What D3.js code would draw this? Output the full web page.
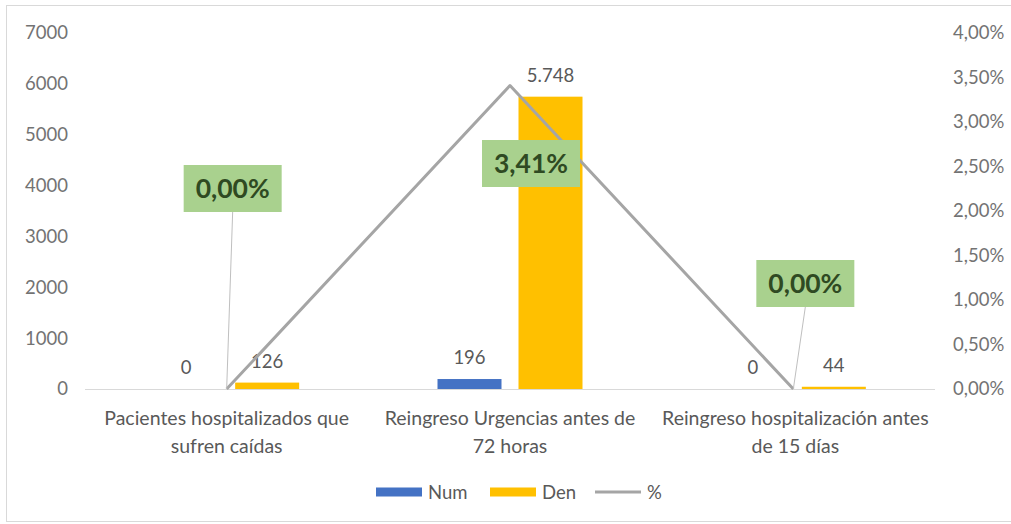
<!DOCTYPE html>
<html>
<head>
<meta charset="utf-8">
<script src="https://cdn.jsdelivr.net/npm/d3@7"></script>
<style>
  html, body { margin: 0; padding: 0; background: #ffffff; }
  svg { display: block; }
  text { font-family: Lato, "Open Sans", sans-serif; }
</style>
</head>
<body>
<svg id="chart" width="1011" height="524"></svg>
<script>
// Indicator categories (two-line axis labels)
const categories = [
  ["Pacientes hospitalizados que", "sufren caídas"],
  ["Reingreso Urgencias antes de", "72 horas"],
  ["Reingreso hospitalización antes", "de 15 días"]
];
const numValues = [0, 196, 0];
const denValues = [126, 5748, 44];
const pctValues = [0.0, 0.0341, 0.0];

const leftTicks = [0, 1000, 2000, 3000, 4000, 5000, 6000, 7000];
const rightTicks = [0, 0.005, 0.01, 0.015, 0.02, 0.025, 0.03, 0.035, 0.04];
const seriesNames = ["Num", "Den", "%"];

const colNum = "#4472c4";
const colDen = "#ffc000";
const colLine = "#a5a5a5";
const colText = "#595959";
const colAxis = "#737373";
const fs = 18.5;

const svg = d3.select("#chart");

// chart frame
svg.append("rect")
  .attr("x", 6.5).attr("y", 5.5)
  .attr("width", 1010).attr("height", 516)
  .attr("fill", "#ffffff")
  .attr("stroke", "#d9d9d9").attr("stroke-width", 1);

const plot = { left: 85, right: 935, top: 33, bottom: 389 };

const x = d3.scaleBand()
  .domain(d3.range(categories.length))
  .range([plot.left, plot.right]);

const yL = d3.scaleLinear().domain([0, 7000]).range([plot.bottom, plot.top]);
const yR = d3.scaleLinear().domain([0, 0.04]).range([plot.bottom, plot.top]);

const fmtInt = v => d3.format(",")(v).replace(/,/g, ".");
const fmtPct = v => d3.format(".2f")(v * 100).replace(".", ",") + "%";

// left axis
const axL = svg.append("g")
  .attr("transform", `translate(${plot.left - 17},0)`)
  .call(d3.axisLeft(yL).tickValues(leftTicks).tickSize(0).tickPadding(0).tickFormat(d => d));
axL.select(".domain").remove();
axL.selectAll("text").attr("fill", colAxis).attr("font-size", fs).attr("font-family", "Lato");

// right axis
const axR = svg.append("g")
  .attr("transform", `translate(${plot.right + 18},0)`)
  .call(d3.axisRight(yR).tickValues(rightTicks).tickSize(0).tickPadding(0).tickFormat(fmtPct));
axR.select(".domain").remove();
axR.selectAll("text").attr("fill", colAxis).attr("font-size", fs).attr("font-family", "Lato");

// baseline
svg.append("line")
  .attr("x1", plot.left).attr("x2", plot.right)
  .attr("y1", plot.bottom + 0.5).attr("y2", plot.bottom + 0.5)
  .attr("stroke", "#d9d9d9").attr("stroke-width", 1);

// bars
const barW = 64, gapHalf = 8.5;
const cx = i => x(i) + x.bandwidth() / 2;

svg.append("g").selectAll("rect").data(numValues).join("rect")
  .attr("x", (d, i) => cx(i) - gapHalf - barW)
  .attr("width", barW)
  .attr("y", d => yL(d))
  .attr("height", d => yL(0) - yL(d))
  .attr("fill", colNum);

svg.append("g").selectAll("rect").data(denValues).join("rect")
  .attr("x", (d, i) => cx(i) + gapHalf)
  .attr("width", barW)
  .attr("y", d => yL(d))
  .attr("height", d => yL(0) - yL(d))
  .attr("fill", colDen);

// bar value labels
svg.append("g").selectAll("text").data(numValues).join("text")
  .attr("x", (d, i) => cx(i) - gapHalf - barW / 2)
  .attr("y", d => yL(d) - 15)
  .attr("text-anchor", "middle")
  .attr("font-size", fs).attr("fill", colText)
  .text(d => fmtInt(d));

svg.append("g").selectAll("text").data(denValues).join("text")
  .attr("x", (d, i) => cx(i) + gapHalf + barW / 2)
  .attr("y", d => yL(d) - 15)
  .attr("text-anchor", "middle")
  .attr("font-size", fs).attr("fill", colText)
  .text(d => fmtInt(d));

// percentage line
const line = d3.line().x((d, i) => cx(i)).y(d => yR(d));
svg.append("path")
  .datum(pctValues)
  .attr("d", line)
  .attr("fill", "none")
  .attr("stroke", colLine)
  .attr("stroke-width", 3)
  .attr("stroke-linejoin", "round");

// callout labels for the percentage series
const callouts = [
  { dx: 6, top: 165 },
  { dx: 21, top: 140 },
  { dx: 12, top: 260 }
];
const boxW = 98, boxH = 47;
const cg = svg.append("g");
pctValues.forEach((v, i) => {
  const bx = cx(i) + callouts[i].dx;
  const by = callouts[i].top;
  if (v === 0) {
    cg.append("line")
      .attr("x1", bx).attr("y1", by + boxH)
      .attr("x2", cx(i)).attr("y2", yR(v))
      .attr("stroke", "#bfbfbf").attr("stroke-width", 1);
  }
  cg.append("rect")
    .attr("x", bx - boxW / 2).attr("y", by)
    .attr("width", boxW).attr("height", boxH)
    .attr("fill", "#a9d18e");
  cg.append("text")
    .attr("x", bx).attr("y", by + boxH / 2 + 9)
    .attr("text-anchor", "middle")
    .attr("font-size", 26.5).attr("font-weight", "bold")
    .attr("font-family", "Lato")
    .attr("fill", "#2f4a22")
    .text(fmtPct(v));
});

// category labels
const cat = svg.append("g");
categories.forEach((lines, i) => {
  lines.forEach((t, j) => {
    cat.append("text")
      .attr("x", cx(i) + (i === 2 ? 2 : 0))
      .attr("y", 425 + j * 28)
      .attr("text-anchor", "middle")
      .attr("font-size", 19.5).attr("fill", colText)
      .text(t);
  });
});

// legend
const lg = svg.append("g").attr("transform", "translate(376,492)");
const items = [
  { name: seriesNames[0], type: "bar", color: colNum, x: 0 },
  { name: seriesNames[1], type: "bar", color: colDen, x: 114 },
  { name: seriesNames[2], type: "line", color: colLine, x: 219 }
];
items.forEach(it => {
  if (it.type === "bar") {
    lg.append("rect").attr("x", it.x).attr("y", -4.5).attr("width", 46).attr("height", 9).attr("fill", it.color);
  } else {
    lg.append("line").attr("x1", it.x).attr("x2", it.x + 46).attr("y1", 0).attr("y2", 0)
      .attr("stroke", it.color).attr("stroke-width", 3);
  }
  lg.append("text").attr("x", it.x + 52).attr("y", 6.5)
    .attr("font-size", fs).attr("fill", colText).text(it.name);
});
</script>
</body>
</html>
